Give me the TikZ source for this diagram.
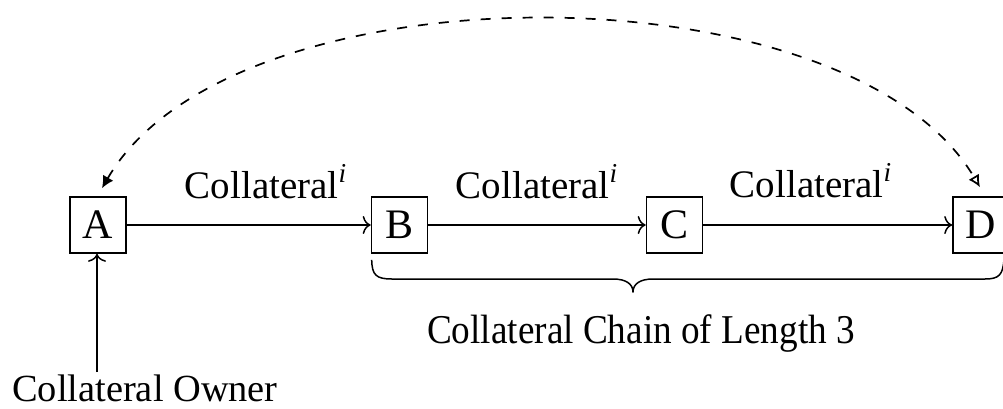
\documentclass[tikz,border=0pt]{standalone}
\usepackage{fontspec}
\setmainfont{Liberation Serif}
\usetikzlibrary{arrows.meta,calc}
\begin{document}
\begin{tikzpicture}[x=0.5pt,y=-0.5pt,
  box/.style={draw,line width=0.8pt,minimum size=28pt,inner sep=0pt,
    font=\fontsize{21}{24}\selectfont},
  lbl/.style={anchor=base,inner sep=0pt,font=\fontsize{19.5}{22}\selectfont},
  link/.style={line width=0.75pt,-{To[length=4pt,width=9pt]}},
  hop/.style={line width=0.85pt,dash pattern=on 5pt off 5.5pt,
    {Latex[length=6pt,width=6pt]}-{Latex[open,length=6pt,width=6pt]}},
  bracepath/.style={line width=0.75pt,line join=round}]
\useasboundingbox (0,0) rectangle (1003,408);

% the four parties of the chain
\node[box] (A) at (98,225) {A};
\node[box] (B) at (399.5,225) {B};
\node[box] (C) at (674.5,225) {C};
\node[box] (D) at (981,225) {D};

% collateral transfers
\draw[link] (A) -- (B);
\draw[link] (B) -- (C);
\draw[link] (C) -- (D);
\node[lbl] (l1) at (266,198) {Collateral\textsuperscript{\textit{i}}};
\node[lbl] (l2) at (537,198) {Collateral\textsuperscript{\textit{i}}};
\node[lbl] (l3) at (811,197) {Collateral\textsuperscript{\textit{i}}};

% owner of the collateral
\node[lbl,font=\fontsize{19.2}{22}\selectfont] (own) at (145,401) {Collateral Owner};
\coordinate (ownTop) at (97,372);
\draw[link] (ownTop) -- (ownTop |- A.south);

% long-range link from A to D
\coordinate (arcA) at ($(A.north)+(4,-8)$);
\coordinate (arcD) at ($(D.north)+(-1,-9)$);
\draw[hop] (arcA) .. controls (232,-36) and (848,-36) .. (arcD);

% brace under B..D
\coordinate (brL) at ($(B.south west)+(1,6)$);
\coordinate (brTip) at (633,292);
\draw[bracepath] (brL) .. controls (372,275) and (376,279) .. (392,279)
  -- (613,279) .. controls (626,279) and (633,284) .. (brTip)
  .. controls (633,284) and (640,279) .. (653,279)
  -- (985,279) .. controls (999,279) and (1003,275) .. (1004,259);
\node[lbl,font=\fontsize{18.6}{22}\selectfont] (chain) at (641,343)
  {\scalebox{1}[1.1]{Collateral Chain of Length 3}};
\end{tikzpicture}
\end{document}
